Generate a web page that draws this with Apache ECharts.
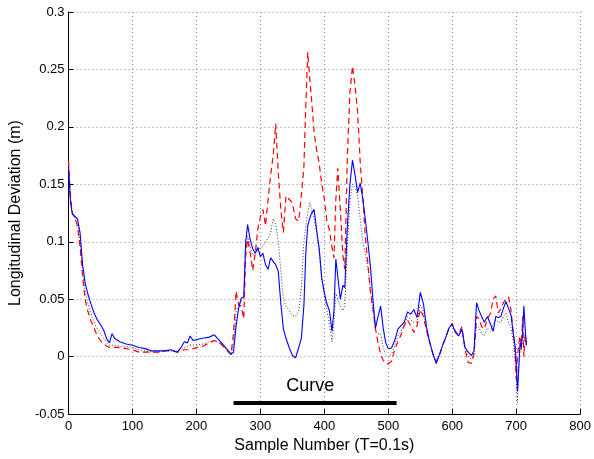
<!DOCTYPE html>
<html>
<head>
<meta charset="utf-8">
<script src="https://cdn.jsdelivr.net/npm/echarts@6/dist/echarts.min.js"></script>
<style>html,body{margin:0;padding:0;background:#fff;}#chart{width:594px;height:459px;}</style>
</head>
<body>
<div id="chart"></div>
<script>
// Sample numbers (x values shared by all three traces)
const sampleNumbers = [
  0,3,6,10,14,18,22,26,30,35,
  40,45,50,55,60,64,68,72,80,90,
  100,110,120,130,140,150,160,170,176,181,
  186,190,195,200,210,220,228,236,244,250,
  254,258,262,266,270,274,277,280,284,288,
  292,296,300,304,308,312,316,320,324,328,
  332,336,340,345,350,355,360,364,368,371,
  374,377,380,384,388,392,396,400,404,408,
  412,415,418,421,425,429,432,436,440,444,
  448,452,456,460,464,468,472,476,480,484,
  488,492,496,500,505,510,515,520,525,530,
  535,540,545,550,555,560,565,570,575,580,
  585,590,595,600,605,610,615,620,625,630,
  634,638,642,646,650,655,660,664,668,672,
  676,680,684,688,692,695,698,700,702,704,
  706,708,710,712,714,716
];
// Blue solid trace
const blueSolid = [
  0.165,0.135,0.124,0.122,0.12,0.108,0.08,0.064,0.055,0.046,
  0.038,0.032,0.028,0.023,0.015,0.012,0.02,0.016,0.013,0.011,
  0.01,0.008,0.007,0.005,0.005,0.005,0.006,0.004,0.008,0.013,
  0.012,0.018,0.014,0.015,0.016,0.017,0.019,0.014,0.009,0.005,
  0.002,0.004,0.027,0.042,0.051,0.052,0.1,0.115,0.102,0.094,
  0.09,0.095,0.087,0.09,0.08,0.076,0.086,0.083,0.08,0.074,
  0.046,0.024,0.016,0.008,0.001,-0.001,0.008,0.016,0.044,0.09,
  0.114,0.12,0.125,0.128,0.11,0.094,0.068,0.056,0.046,0.04,
  0.022,0.04,0.085,0.07,0.05,0.062,0.06,0.114,0.15,0.171,
  0.158,0.143,0.151,0.138,0.12,0.1,0.079,0.05,0.025,0.035,
  0.044,0.025,0.012,0.007,0.0075,0.014,0.024,0.027,0.03,0.039,
  0.037,0.041,0.034,0.056,0.046,0.025,0.012,0.002,-0.006,0.002,
  0.01,0.017,0.025,0.028,0.021,0.018,0.024,0.008,0.004,0.001,
  0.005,0.047,0.04,0.035,0.03,0.035,0.028,0.022,0.035,0.034,
  0.035,0.042,0.048,0.042,0.036,0.022,0.01,-0.005,-0.03,-0.01,
  0.012,0.008,0.02,0.044,0.025,0.01
];
// Red dashed trace
const redDashed = [
  0.17,0.14,0.125,0.121,0.113,0.096,0.07,0.05,0.04,0.031,
  0.025,0.018,0.014,0.011,0.009,0.008,0.009,0.008,0.008,0.007,
  0.006,0.004,0.004,0.004,0.004,0.005,0.005,0.004,0.005,0.006,
  0.006,0.006,0.007,0.008,0.009,0.012,0.014,0.012,0.008,0.004,
  0.002,0.02,0.057,0.045,0.044,0.033,0.088,0.102,0.091,0.075,
  0.09,0.111,0.122,0.128,0.114,0.137,0.158,0.175,0.203,0.16,
  0.128,0.108,0.14,0.137,0.134,0.12,0.118,0.14,0.165,0.218,
  0.265,0.243,0.224,0.195,0.18,0.168,0.15,0.137,0.118,0.11,
  0.095,0.086,0.137,0.164,0.128,0.088,0.076,0.175,0.23,0.253,
  0.236,0.213,0.17,0.14,0.105,0.082,0.056,0.042,0.024,0.012,
  0.002,-0.003,-0.006,-0.006,-0.004,0.006,0.013,0.019,0.027,0.032,
  0.027,0.021,0.027,0.041,0.035,0.022,0.012,0.002,-0.004,0.001,
  0.01,0.017,0.025,0.029,0.022,0.019,0.026,0.006,-0.005,-0.006,
  0.002,0.035,0.033,0.026,0.024,0.033,0.038,0.05,0.053,0.038,
  0.042,0.047,0.05,0.052,0.04,0.022,0.009,-0.02,0.0,0.012,
  0.018,0.006,0.035,0.0,0.018,0.01
];
// Black dotted trace
const blackDotted = [
  0.168,0.138,0.124,0.121,0.115,0.1,0.075,0.057,0.047,0.037,
  0.03,0.024,0.02,0.016,0.012,0.01,0.01,0.01,0.009,0.009,
  0.008,0.006,0.005,0.004,0.004,0.005,0.005,0.004,0.006,0.008,
  0.009,0.01,0.01,0.01,0.011,0.013,0.014,0.012,0.008,0.004,
  0.002,0.01,0.04,0.045,0.048,0.05,0.092,0.105,0.096,0.088,
  0.09,0.093,0.095,0.096,0.1,0.103,0.108,0.12,0.115,0.1,
  0.075,0.05,0.044,0.04,0.036,0.035,0.04,0.06,0.1,0.114,
  0.125,0.134,0.128,0.12,0.108,0.09,0.068,0.052,0.04,0.028,
  0.013,0.03,0.055,0.05,0.044,0.04,0.045,0.096,0.135,0.15,
  0.148,0.14,0.12,0.1,0.09,0.078,0.06,0.04,0.022,0.02,
  0.02,0.008,0.002,0.0,0.002,0.01,0.018,0.022,0.028,0.035,
  0.032,0.03,0.03,0.045,0.04,0.023,0.012,0.002,-0.005,0.001,
  0.01,0.017,0.025,0.028,0.021,0.018,0.025,0.007,0.0,-0.002,
  0.003,0.028,0.025,0.02,0.018,0.025,0.022,0.028,0.032,0.03,
  0.03,0.035,0.038,0.03,0.025,0.015,0.0,-0.015,-0.04,-0.01,
  0.005,0.01,0.012,0.015,0.02,0.012
];
// "Curve" annotation: bar extent (sample numbers) and level, label position
const curveBarX = [258, 513];
const curveBarY = [-0.0403, -0.0403];
const curveLabel = { text: 'Curve', x: 378, y: -0.0255 };

const xTicks = { min: 0, max: 800, interval: 100 };
const yTicks = { min: -0.05, max: 0.3, interval: 0.05 };

const pair = arr => sampleNumbers.map((x, i) => [x, arr[i]]);
const font = 'Liberation Sans, Arial, Helvetica, sans-serif';

const chart = echarts.init(document.getElementById('chart'), null, { renderer: 'canvas' });
chart.setOption({
  animation: false,
  backgroundColor: '#ffffff',
  grid: { left: 68, right: 13, top: 12, bottom: 44, containLabel: false },
  xAxis: {
    type: 'value', min: xTicks.min, max: xTicks.max, interval: xTicks.interval,
    name: 'Sample Number (T=0.1s)', nameLocation: 'middle', nameGap: 22,
    nameTextStyle: { fontFamily: font, fontSize: 16, color: '#000' },
    axisLine: { show: true, onZero: false, lineStyle: { color: '#000', width: 1 } },
    axisTick: { show: true, inside: true, length: 5, lineStyle: { color: '#000' } },
    axisLabel: { fontFamily: font, fontSize: 13, color: '#000', margin: 6 },
    splitLine: { show: true, lineStyle: { color: '#888', type: [1, 3], width: 1 } }
  },
  yAxis: {
    type: 'value', min: yTicks.min, max: yTicks.max, interval: yTicks.interval,
    name: 'Longitudinal Deviation (m)', nameLocation: 'middle', nameGap: 38,
    nameTextStyle: { fontFamily: font, fontSize: 16, color: '#000' },
    axisLine: { show: true, onZero: false, lineStyle: { color: '#000', width: 1 } },
    axisTick: { show: true, inside: true, length: 5, lineStyle: { color: '#000' } },
    axisLabel: { fontFamily: font, fontSize: 13, color: '#000', margin: 4,
      formatter: v => String(Math.round(v * 1000) / 1000) },
    splitLine: { show: true, lineStyle: { color: '#888', type: [1, 3], width: 1 } }
  },
  series: [
    { type: 'line', name: 'dotted', data: pair(blackDotted), showSymbol: false, symbol: 'none',
      lineStyle: { color: '#000', width: 0.8, type: [1, 2] }, z: 2 },
    { type: 'line', name: 'dashed', data: pair(redDashed), showSymbol: false, symbol: 'none',
      lineStyle: { color: '#ff0000', width: 1.2, type: [6, 4] }, z: 3 },
    { type: 'line', name: 'solid', data: pair(blueSolid), showSymbol: false, symbol: 'none',
      lineStyle: { color: '#0000ff', width: 1.1 }, z: 4 },
    { type: 'line', name: 'curveBar', data: curveBarX.map((x, i) => [x, curveBarY[i]]),
      showSymbol: false, symbol: 'none', lineStyle: { color: '#000', width: 4 }, z: 5 },
    { type: 'scatter', name: 'curveLabel', data: [[curveLabel.x, curveLabel.y]], symbolSize: 1,
      itemStyle: { color: 'rgba(0,0,0,0)', opacity: 1 },
      label: { show: true, position: 'inside', formatter: curveLabel.text, opacity: 1,
        fontFamily: font, fontSize: 18, color: '#000000' }, z: 6 }
  ]
});
</script>
</body>
</html>
